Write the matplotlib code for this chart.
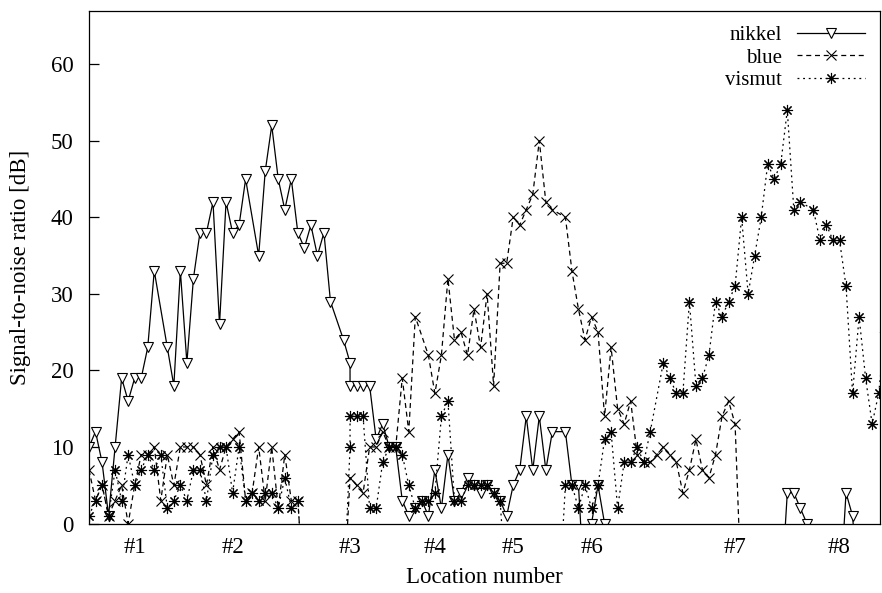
import matplotlib.pyplot as plt
import numpy as np

# sample positions (measurement index) and SNR values [dB]; values below 0 drop off the axis
nikkel_x = [0, 1, 2, 3, 4, 5, 6, 7, 8, 9, 10,
            12, 13, 14, 15, 16, 17, 18, 19, 20, 21, 22, 23, 24,
            26, 27, 28, 29, 30, 31, 32, 33, 34, 35, 36, 37,
            39, 40, 40, 41, 42, 43, 44, 45, 46, 47,
            48, 49, 50, 51, 52, 53, 54, 55, 56, 57, 58, 59, 60, 61, 62, 63, 64, 65,
            66, 67, 68, 69, 70, 71, 73, 74, 75, 76, 77, 78, 79, 80,
            106, 107, 108, 109, 110, 111,
            115, 116, 117, 118]
nikkel_y = [10, 12, 8, 1, 10, 19, 16, 19, 19, 23, 33,
            23, 18, 33, 21, 32, 38, 38, 42, 26, 42, 38, 39, 45,
            35, 46, 52, 45, 41, 45, 38, 36, 39, 35, 38, 29,
            24, 21, 18, 18, 18, 18, 11, 13, 10, 10,
            3, 1, 2, 3, 1, 7, 2, 9, 3, 4, 6, 5, 4, 5, 4, 3, 1, 5,
            7, 14, 7, 14, 7, 12, 12, 5, 5, -10, 0, 5, 0, -10,
            -10, 4, 4, 2, 0, -10,
            -10, 4, 1, -10]

blue_x = [0, 1, 2, 3, 4, 5, 6, 7, 8, 9, 10, 11, 12, 13, 14, 15, 16, 17, 18, 19,
          20, 21, 22, 23, 24, 25, 26, 27, 28, 29, 30, 31, 32, 33,
          39, 40, 41, 42, 43, 44, 45, 46, 47, 48, 49, 50, 52, 53, 54, 55, 56, 57,
          58, 59, 60, 61, 62, 63, 64, 65, 66, 67, 68, 69, 70, 71, 73, 74, 75, 76,
          77, 78, 79, 80, 81, 82, 83, 84, 85, 86, 87, 88, 89, 90, 91, 92, 93, 94,
          95, 96, 97, 98, 99, 100]
blue_y = [7, 3, 5, 1, 3, 5, 0, 5, 9, 9, 10, 3, 9, 5, 10, 10, 10, 9, 5, 10,
          7, 10, 11, 12, 3, 4, 10, 3, 10, 2, 9, 3, 3, -10,
          -10, 6, 5, 4, 10, 10, 12, 10, 10, 19, 12, 27, 22, 17, 22, 32, 24, 25,
          22, 28, 23, 30, 18, 34, 34, 40, 39, 41, 43, 50, 42, 41, 40, 33, 28, 24,
          27, 25, 14, 23, 15, 13, 16, 9, 8, 8, 9, 10, 9, 8, 4, 7, 11, 7,
          6, 9, 14, 16, 13, -10]

vismut_x = [0, 1, 2, 3, 4, 5, 6, 7, 8, 9, 10, 11, 12, 13, 14, 15, 16, 17, 18, 19,
            20, 21, 22, 23, 24, 25, 26, 27, 28, 29, 30, 31, 32, 33,
            39, 40, 40, 41, 42, 43, 44, 45, 46, 47, 48, 49, 50, 51, 52, 53, 54, 55,
            56, 57, 58, 59, 60, 61, 62, 63, 64,
            72, 73, 74, 75, 76, 77, 78, 79, 80, 81, 82, 83, 84, 85, 86, 88, 89, 90, 91,
            92, 93, 94, 95, 96, 97, 98, 99, 100, 101, 102, 103, 104, 105, 106, 107, 108, 109,
            111, 112, 113, 114, 115, 116, 117, 118, 119, 120, 121, 122]
vismut_y = [1, 3, 5, 1, 7, 3, 9, 5, 7, 9, 7, 9, 2, 3, 5, 3, 7, 7, 3, 9,
            10, 10, 4, 10, 3, 4, 3, 4, 4, 2, 6, 2, 3, -10,
            -10, 10, 14, 14, 14, 2, 2, 8, 10, 10, 9, 5, 2, 3, 3, 4, 14, 16,
            3, 3, 5, 5, 5, 5, 4, 3, -10,
            -10, 5, 5, 2, 5, 2, 5, 11, 12, 2, 8, 8, 10, 8, 12, 21, 19, 17, 17,
            29, 18, 19, 22, 29, 27, 29, 31, 40, 30, 35, 40, 47, 45, 47, 54, 41, 42,
            41, 37, 39, 37, 37, 31, 17, 27, 19, 13, 17, 25]

loc_pos = [7, 22, 40, 53, 65, 77, 99, 115]
loc_labels = ['#1', '#2', '#3', '#4', '#5', '#6', '#7', '#8']

plt.rcParams['font.family'] = ['Liberation Serif', 'DejaVu Serif']
plt.rcParams['font.size'] = 16.5

fig = plt.figure(figsize=(8.82, 5.93), dpi=100)
ax = fig.add_axes([0.1009, 0.1172, 0.8968, 0.8648])

ax.plot(nikkel_x, nikkel_y, color='black', lw=0.9, linestyle='-',
        marker='v', markersize=7, markerfacecolor='white', markeredgewidth=0.8,
        label='nikkel')
ax.plot(blue_x, blue_y, color='black', lw=0.9, linestyle=(0, (4, 3)),
        marker='x', markersize=7, markeredgewidth=0.8, label='blue')
ax.plot(vismut_x, vismut_y, color='black', lw=0.9, linestyle=(0, (1.5, 3)),
        marker=(8, 2, 0), markersize=8, markeredgewidth=0.8, label='vismut')

ax.set_xlim(0, 121.2)
ax.set_ylim(0, 67)
ax.set_yticks(range(0, 61, 10))
ax.set_xticks(loc_pos)
ax.set_xticklabels(loc_labels)
ax.tick_params(axis='y', direction='in', length=7, width=0.9, right=False, pad=11)
ax.tick_params(axis='x', direction='in', length=0, pad=10)
for s in ax.spines.values():
    s.set_linewidth(0.9)

ax.set_xlabel('Location number', labelpad=6)
ax.set_ylabel('Signal-to-noise ratio [dB]', labelpad=14)

ax.legend(loc='upper right', frameon=False, markerfirst=False, handlelength=3.3,
          handletextpad=0.7, labelspacing=0.15, borderaxespad=0.3, fontsize=15)

fig.savefig('out.png', dpi=100)
